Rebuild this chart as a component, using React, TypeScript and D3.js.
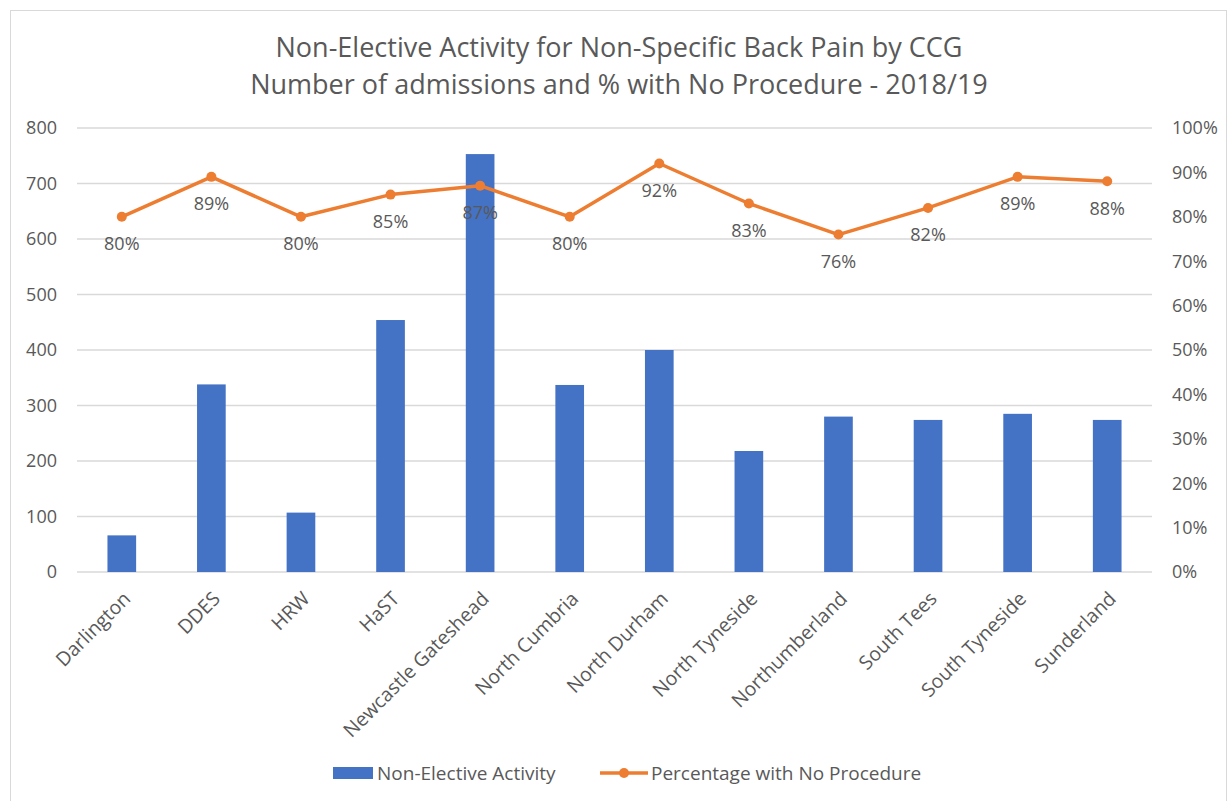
import React from "react";
import * as d3 from "d3";

// Non-elective admissions for non-specific back pain, by CCG, 2018/19
const categories = [
  "Darlington",
  "DDES",
  "HRW",
  "HaST",
  "Newcastle Gateshead",
  "North Cumbria",
  "North Durham",
  "North Tyneside",
  "Northumberland",
  "South Tees",
  "South Tyneside",
  "Sunderland",
];
const admissions = [66, 338, 107, 454, 753, 337, 400, 218, 280, 274, 285, 274];
const pctNoProcedure = [0.8, 0.89, 0.8, 0.85, 0.87, 0.8, 0.92, 0.83, 0.76, 0.82, 0.89, 0.88];
const leftTicks = [0, 100, 200, 300, 400, 500, 600, 700, 800];
const rightTicks = [0, 0.1, 0.2, 0.3, 0.4, 0.5, 0.6, 0.7, 0.8, 0.9, 1.0];
const titleLines = [
  "Non-Elective Activity for Non-Specific Back Pain by CCG",
  "Number of admissions and % with No Procedure - 2018/19",
];
const seriesNames = ["Non-Elective Activity", "Percentage with No Procedure"];

const W = 1230;
const H = 801;
const plot = { left: 77, right: 1152, top: 128, bottom: 572 };
const BLUE = "#4472C4";
const ORANGE = "#ED7D31";
const TEXT = "#595959";
const GRID = "#D9D9D9";
const FONT = "'Open Sans', sans-serif";
// baseline offset (in em) that vertically centres digits / capitals on a point
const MID = "0.36em";

export default function App() {
  const x = d3
    .scaleBand<string>()
    .domain(categories)
    .range([plot.left, plot.right])
    .paddingInner(0.68)
    .paddingOuter(0.34);
  const yL = d3.scaleLinear().domain([0, 800]).range([plot.bottom, plot.top]);
  const yR = d3.scaleLinear().domain([0, 1]).range([plot.bottom, plot.top]);
  const pctFmt = d3.format(".0%");
  const cx = (c: string) => (x(c) ?? 0) + x.bandwidth() / 2;

  const line = d3
    .line<number>()
    .x((_, i) => cx(categories[i]))
    .y((d) => yR(d));

  return (
    <svg
      width={W}
      height={H}
      style={{ position: "fixed", left: 0, top: 0, background: "#fff" }}
      fontFamily={FONT}
    >
      <rect x={0} y={0} width={W} height={H} fill="#fff" />
      <rect x={10.5} y={10.5} width={1216} height={800} fill="none" stroke={GRID} strokeWidth={1} />

      {/* title */}
      {titleLines.map((t, i) => (
        <text key={t} x={619} y={47 + i * 37} dy={MID} textAnchor="middle" fontSize={27} fill={TEXT}>
          {t}
        </text>
      ))}

      {/* gridlines */}
      {leftTicks.map((t) => (
        <line key={t} x1={plot.left} x2={plot.right} y1={yL(t)} y2={yL(t)} stroke={GRID} strokeWidth={1.3} />
      ))}

      {/* left axis labels */}
      {leftTicks.map((t) => (
        <text key={t} x={57} y={yL(t)} dy={MID} textAnchor="end" fontSize={18} fill={TEXT}>
          {t}
        </text>
      ))}

      {/* right axis labels */}
      {rightTicks.map((t) => (
        <text key={t} x={1172} y={yR(t)} dy={MID} textAnchor="start" fontSize={18} fill={TEXT}>
          {pctFmt(t)}
        </text>
      ))}

      {/* bars */}
      {admissions.map((v, i) => (
        <rect
          key={categories[i]}
          x={x(categories[i])}
          y={yL(v)}
          width={x.bandwidth()}
          height={yL(0) - yL(v)}
          fill={BLUE}
        />
      ))}

      {/* line series */}
      <path d={line(pctNoProcedure) ?? ""} fill="none" stroke={ORANGE} strokeWidth={3.5} strokeLinejoin="round" />
      {pctNoProcedure.map((v, i) => (
        <circle key={categories[i]} cx={cx(categories[i])} cy={yR(v)} r={5} fill={ORANGE} />
      ))}

      {/* data labels */}
      {pctNoProcedure.map((v, i) => (
        <text
          key={categories[i]}
          x={cx(categories[i])}
          y={yR(v) + 27}
          dy={MID}
          textAnchor="middle"
          fontSize={18}
          fill={TEXT}
        >
          {pctFmt(v)}
        </text>
      ))}

      {/* category labels */}
      {categories.map((c) => (
        <text
          key={c}
          transform={`translate(${cx(c) + 5},${plot.bottom + 23}) rotate(-45)`}
          dy={MID}
          textAnchor="end"
          fontSize={19.5}
          fill={TEXT}
        >
          {c}
        </text>
      ))}

      {/* legend */}
      <rect x={333} y={767} width={40} height={12} fill={BLUE} />
      <text x={377} y={773} dy={MID} fontSize={19} fill={TEXT}>
        {seriesNames[0]}
      </text>
      <line x1={600} x2={648} y1={773} y2={773} stroke={ORANGE} strokeWidth={3.5} />
      <circle cx={624} cy={773} r={5} fill={ORANGE} />
      <text x={651} y={773} dy={MID} fontSize={19} fill={TEXT}>
        {seriesNames[1]}
      </text>
    </svg>
  );
}
